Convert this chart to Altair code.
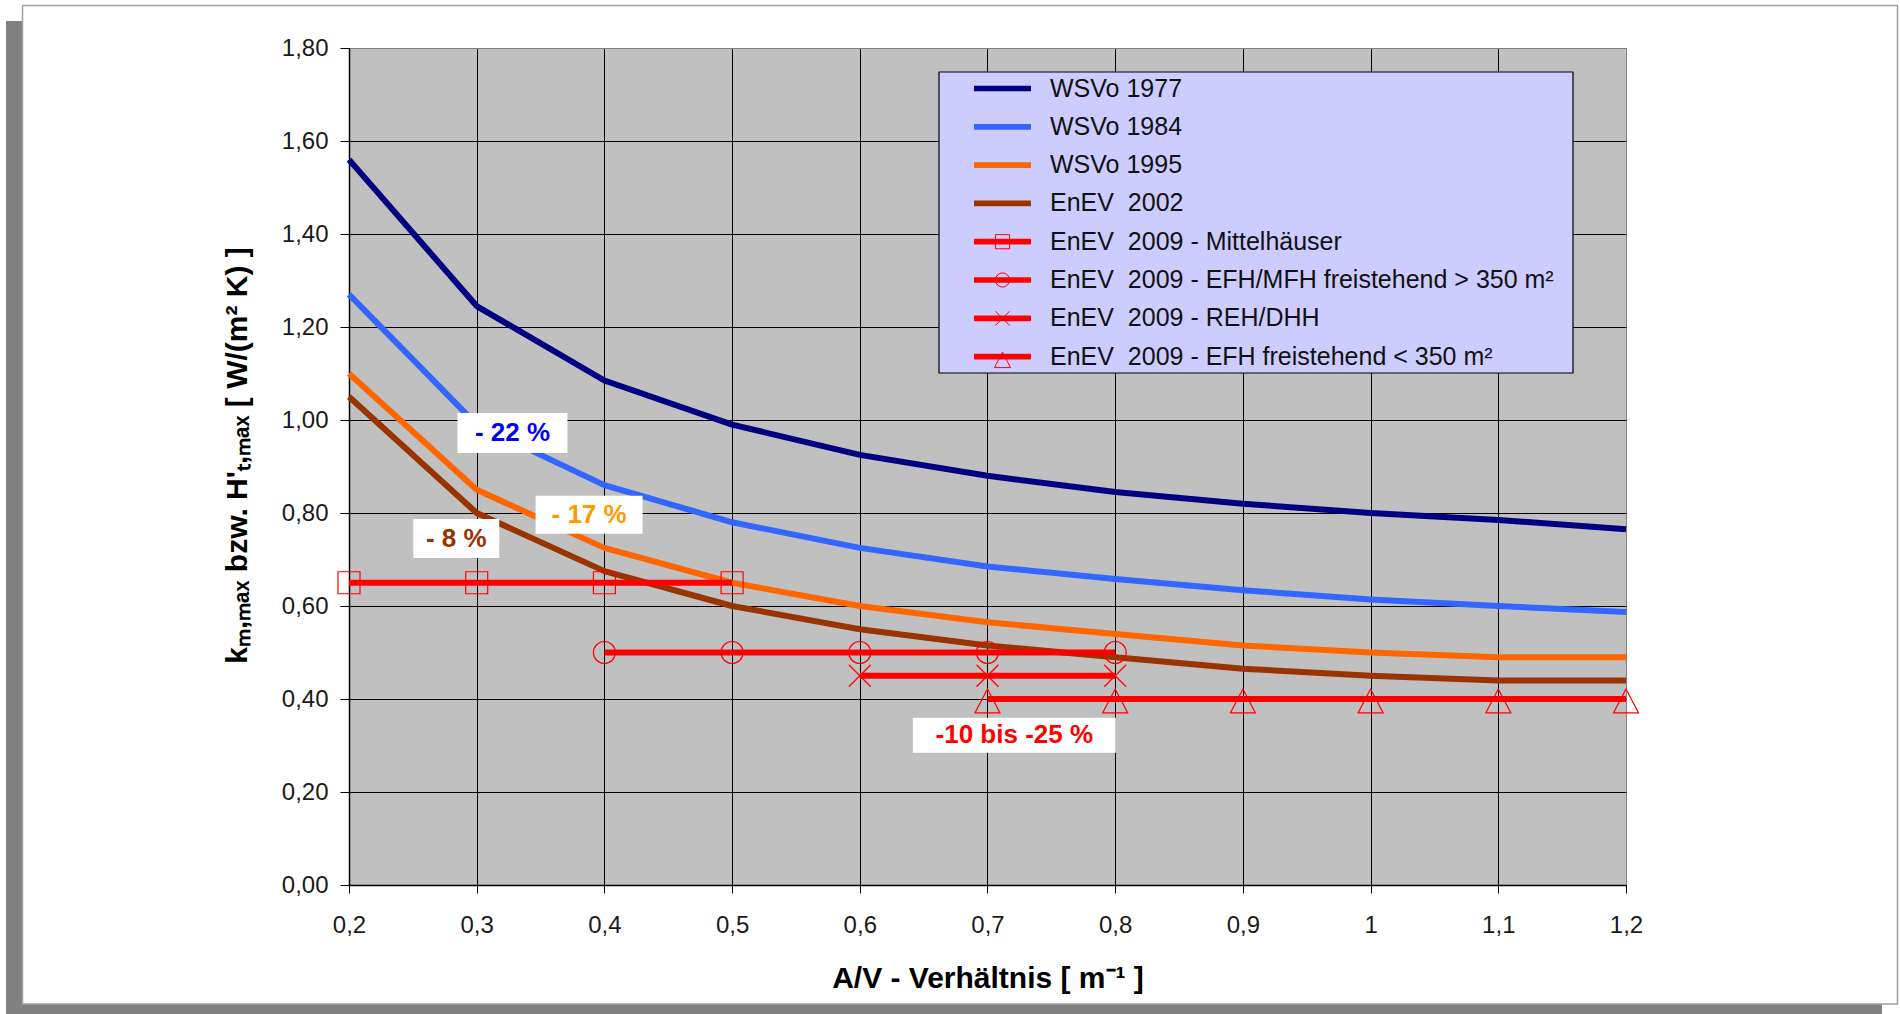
import altair as alt
import pandas as pd

# ---------------- data ----------------
x_vals = [0.2, 0.3, 0.4, 0.5, 0.6, 0.7, 0.8, 0.9, 1.0, 1.1, 1.2]
wsvo_1977 = [1.56, 1.245, 1.085, 0.99, 0.925, 0.88, 0.845, 0.82, 0.80, 0.785, 0.765]
wsvo_1984 = [1.27, 0.99, 0.86, 0.78, 0.725, 0.685, 0.658, 0.634, 0.614, 0.60, 0.587]
wsvo_1995 = [1.10, 0.85, 0.725, 0.65, 0.60, 0.565, 0.54, 0.515, 0.50, 0.49, 0.49]
enev_2002 = [1.05, 0.80, 0.675, 0.60, 0.55, 0.515, 0.49, 0.465, 0.45, 0.44, 0.44]

mittel_x = [0.2, 0.3, 0.4, 0.5]
mittel_y = [0.65, 0.65, 0.65, 0.65]
efh_gross_x = [0.4, 0.5, 0.6, 0.7, 0.8]
efh_gross_y = [0.50, 0.50, 0.50, 0.50, 0.50]
reh_x = [0.6, 0.7, 0.8]
reh_y = [0.45, 0.45, 0.45]
efh_klein_x = [0.7, 0.8, 0.9, 1.0, 1.1, 1.2]
efh_klein_y = [0.40, 0.40, 0.40, 0.40, 0.40, 0.40]

NB = "\u00a0"
series_names = [
    "WSVo 1977",
    "WSVo 1984",
    "WSVo 1995",
    f"EnEV{NB}{NB}2002",
    f"EnEV{NB}{NB}2009 - Mittelhäuser",
    f"EnEV{NB}{NB}2009 - EFH/MFH freistehend > 350 m²",
    f"EnEV{NB}{NB}2009 - REH/DHH",
    f"EnEV{NB}{NB}2009 - EFH freistehend < 350 m²",
]
series_colors = ["#000080", "#3366FF", "#FF6600", "#993300",
                 "#FF0000", "#FF0000", "#FF0000", "#FF0000"]

x_ticks = [0.2, 0.3, 0.4, 0.5, 0.6, 0.7, 0.8, 0.9, 1.0, 1.1, 1.2]
y_ticks = [0.0, 0.2, 0.4, 0.6, 0.8, 1.0, 1.2, 1.4, 1.6, 1.8]

annot_labels = ["- 22 %", "- 17 %", "- 8 %", "-10 bis -25 %"]
annot_x = [0.328, 0.388, 0.284, 0.721]
annot_y = [0.972, 0.796, 0.745, 0.322]

# ---------------- styles ----------------
FONT = "Liberation Sans"
annot_colors = ["#0000FF", "#FF9900", "#993300", "#FF0000"]
annot_box = [(110, 40), (107, 38), (86, 39), (203, 35)]  # px width, height
marker_shapes = [None, None, None, None,
                 "square", "circle", "M-1,-1L1,1M-1,1L1,-1", "M0,-0.91L1.14,1.27L-1.14,1.27Z"]

# ---------------- tables ----------------
rows = []
for name, ys in zip(series_names[:4], [wsvo_1977, wsvo_1984, wsvo_1995, enev_2002]):
    for x, y in zip(x_vals, ys):
        rows.append({"series": name, "x": x, "y": y})
red_sets = [(mittel_x, mittel_y), (efh_gross_x, efh_gross_y), (reh_x, reh_y), (efh_klein_x, efh_klein_y)]
for name, (xs, ys) in zip(series_names[4:], red_sets):
    for x, y in zip(xs, ys):
        rows.append({"series": name, "x": x, "y": y})
df = pd.DataFrame(rows)

xscale = alt.Scale(domain=[0.2, 1.2], nice=False, zero=False)
yscale = alt.Scale(domain=[0, 1.8], nice=False, zero=False)

x_axis = alt.Axis(
    values=x_ticks,
    labelExpr="replace(format(datum.value, '.1~f'), '.', ',')",
    title="A/V - Verhältnis [ m⁻¹ ]",
    titleFont=FONT, titleFontSize=30, titleFontWeight="bold", titleColor="black",
    titleBaseline="alphabetic", titleY=102,
    labelFont=FONT, labelFontSize=24, labelColor="#1a1a1a", labelPadding=20,
    labelFlush=False, labelOverlap=False,
    tickSize=8, tickColor="black", tickWidth=1,
    domainColor="black", domainWidth=1.5,
    grid=True, gridWidth=1,
    gridColor={"condition": {"test": "datum.value >= 1.19", "value": "#808080"}, "value": "#000000"},
)
y_axis = alt.Axis(
    values=y_ticks,
    labelExpr="replace(format(datum.value, '.2f'), '.', ',')",
    title="k\u2098,\u2098\u2090\u2093 bzw. H'\u209c,\u2098\u2090\u2093 [ W/(m² K) ]",
    titleFont=FONT, titleFontSize=30, titleFontWeight="bold", titleColor="black",
    titleX=-112, titleY=407, titleBaseline="middle", titleAlign="center", titleAngle=270,
    labelFont=FONT, labelFontSize=24, labelColor="#1a1a1a", labelPadding=12,
    labelOverlap=False,
    tickSize=9, tickColor="black", tickWidth=1,
    domainColor="black", domainWidth=1.5,
    grid=True, gridWidth=1,
    gridColor={"condition": {"test": "datum.value >= 1.79", "value": "#808080"}, "value": "#000000"},
)
X = alt.X("x:Q", scale=xscale, axis=x_axis)
Y = alt.Y("y:Q", scale=yscale, axis=y_axis)

one = pd.DataFrame({"a": [0]})

# ---------------- page frame (decoration outside plot area) ----------------
frame_gray = "#808080"
shadow_left = alt.Chart(one).mark_rect(color=frame_gray).encode(
    x=alt.value(-343), x2=alt.value(-327), y=alt.value(-27), y2=alt.value(966))
shadow_bottom = alt.Chart(one).mark_rect(color=frame_gray).encode(
    x=alt.value(-343), x2=alt.value(1533), y=alt.value(956), y2=alt.value(966))
border = alt.Chart(one).mark_rect(fillOpacity=0, stroke="#A0A0A0", strokeWidth=1.5).encode(
    x=alt.value(-326.5), x2=alt.value(1548.5), y=alt.value(-42.5), y2=alt.value(956))

# ---------------- data marks ----------------
lines = alt.Chart(df).mark_line(strokeWidth=6, strokeJoin="round").encode(
    x=X, y=Y,
    stroke=alt.Stroke("series:N", scale=alt.Scale(domain=series_names, range=series_colors), legend=None),
    order=alt.Order("x:Q"),
)

marker_layers = []
for name, shp in zip(series_names[4:], marker_shapes[4:]):
    marker_layers.append(
        alt.Chart(df[df["series"] == name]).mark_point(
            shape=shp, filled=False, size=484, strokeWidth=1.2, color="#FF0000", opacity=1
        ).encode(x=X, y=Y)
    )

annot_df = pd.DataFrame({"label": annot_labels, "x": annot_x, "y": annot_y})
annot_layers = []
for i, lab in enumerate(annot_labels):
    w, h = annot_box[i]
    r = h / w
    path = f"M-1,{-r:.4f}H1V{r:.4f}H-1Z"
    sub = annot_df[annot_df["label"] == lab]
    annot_layers.append(
        alt.Chart(sub).mark_point(shape=path, size=w * w, filled=True, color="white",
                                  opacity=1, strokeWidth=0).encode(x=X, y=Y)
    )
    annot_layers.append(
        alt.Chart(sub).mark_text(font=FONT, fontSize=26, fontWeight="bold",
                                 color=annot_colors[i], align="center", baseline="middle").encode(
            x=X, y=Y, text="label:N")
    )

# ---------------- legend (box at top right of the plot) ----------------
LEG_X0, LEG_X1, LEG_Y0, LEG_Y1 = 590, 1224, 24, 325
ROW0, PITCH = 40.5, 38.3
SYM_X0, SYM_X1, LABEL_X = 625, 682, 701
legend_layers = [
    alt.Chart(one).mark_rect(fill="#CCCCFF", stroke="black", strokeWidth=1.2).encode(
        x=alt.value(LEG_X0), x2=alt.value(LEG_X1), y=alt.value(LEG_Y0), y2=alt.value(LEG_Y1))
]
for i, (name, col, shp) in enumerate(zip(series_names, series_colors, marker_shapes)):
    yy = ROW0 + PITCH * i
    legend_layers.append(
        alt.Chart(one).mark_rule(color=col, strokeWidth=5.7).encode(
            x=alt.value(SYM_X0), x2=alt.value(SYM_X1), y=alt.value(yy)))
    if shp is not None:
        legend_layers.append(
            alt.Chart(one).mark_point(shape=shp, filled=False, size=200, strokeWidth=1,
                                      color=col, opacity=1).encode(
                x=alt.value((SYM_X0 + SYM_X1) / 2), y=alt.value(yy + (2 if shp.startswith("M0") else 0))))
    legend_layers.append(
        alt.Chart(one).mark_text(text=name, font=FONT, fontSize=25, color="#111111",
                                 align="left", baseline="middle").encode(
            x=alt.value(LABEL_X), y=alt.value(yy)))

chart = alt.layer(
    shadow_left, shadow_bottom, border, lines, *marker_layers, *annot_layers, *legend_layers
).properties(
    width=1277, height=837,
    autosize=alt.AutoSizeParams(type="none"),
    padding={"left": 349, "top": 48, "right": 274, "bottom": 129},
).configure(background="white", font=FONT).configure_view(
    fill="#C0C0C0", stroke="#808080", strokeWidth=1
)

chart.save("out.html", embed_options={"renderer": "svg", "actions": False})
